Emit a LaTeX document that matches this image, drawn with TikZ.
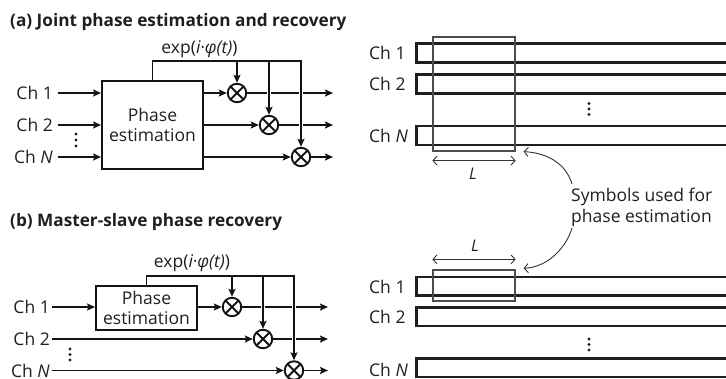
\documentclass[tikz,border=0pt]{standalone}
\usepackage{fontspec}
\setmainfont{Open Sans}
\usetikzlibrary{arrows.meta,calc}
\begin{document}
\begin{tikzpicture}[x=1pt,y=-1pt,
  txt/.style={font=\fontsize{17.5}{20.5}\selectfont, text=black!88, inner sep=0pt},
  ttl/.style={font=\fontsize{17.2}{20}\selectfont\bfseries, text=black!88, inner sep=0pt, anchor=base west},
  sig/.style={line width=1.9pt, draw=black!92},
  arr/.style={sig, -{Stealth[length=8pt,width=7pt,inset=1.5pt]}},
  halo/.style={line width=4.6pt, draw=white},
  est/.style={draw=black!92, line width=1.9pt, minimum width=101pt, align=center, inner sep=0pt,
    font=\fontsize{17.5}{20.5}\selectfont, text=black!88},
  mul/.style={circle, draw=black!92, line width=1.9pt, minimum size=18.5pt, inner sep=0pt},
  bar/.style={line width=2.4pt, draw=black!88},
  win/.style={line width=1.2pt, draw=black!70, inner sep=0pt},
  thin/.style={line width=0.9pt, draw=black!80},
  barb/.style={thin, -{Straight Barb[length=4pt,width=9pt]}},
  dotc/.style={fill=black!88},
]
\useasboundingbox (0,0) rectangle (726,378);

% ---------------- (a) ----------------
\node[ttl] (ta) at (10,26.7) {(a) Joint phase estimation and recovery};
\node[est, minimum height=88pt] (boxa) at (152.5,125) {Phase\\estimation};
\node[txt, anchor=east, inner xsep=5pt] (la1) at (58,93) {Ch 1};
\node[txt, anchor=east, inner xsep=5pt] (la2) at (58,125) {Ch 2};
\node[txt, anchor=east, inner xsep=5pt] (la3) at (58,157) {Ch \textit{N}};
\foreach \d in {134,140,146} \fill[dotc] (76,\d) circle (1.7pt);
\node[mul] (ma1) at (237,93) {};
\node[mul] (ma2) at (269,125) {};
\node[mul] (ma3) at (301,157) {};
\coordinate (outa) at (333,0);
\coordinate (fa) at ([yshift=19pt]boxa.north);
\node[txt, anchor=base] (expa) at (199.5,53.2) {exp(\textit{i·φ(t)})};

\draw[arr] (la1.east) -- (la1.east -| boxa.west);
\draw[arr] (la2.east) -- (la2.east -| boxa.west);
\draw[arr] (la3.east) -- (la3.east -| boxa.west);
\draw[arr] (boxa.east |- ma1) -- (ma1.west);
\draw[arr] (boxa.east |- ma2) -- (ma2.west);
\draw[arr] (boxa.east |- ma3) -- (ma3.west);
\draw[arr] (ma1.east) -- (ma1 -| outa);
\draw[arr] (ma2.east) -- (ma2 -| outa);
\draw[arr] (ma3.east) -- (ma3 -| outa);
\draw[halo] ($(ma2 |- fa)+(0,5)$) -- ($(ma2.north)+(0,-10)$);
\draw[halo] ($(ma3 |- fa)+(0,5)$) -- ($(ma3.north)+(0,-10)$);
\draw[arr] (boxa.north) -- (fa) -| (ma3.north);
\draw[arr] (ma1 |- fa) -- (ma1.north);
\draw[arr] (ma2 |- fa) -- (ma2.north);

% ---------------- (b) ----------------
\node[ttl] (tb) at (10,226) {(b) Master-slave phase recovery};
\node[est, minimum height=44pt] (boxb) at (146.5,308) {Phase\\estimation};
\node[txt, anchor=east, inner xsep=2pt] (lb1) at (52,307) {Ch 1};
\node[txt, anchor=east, inner xsep=2pt] (lb2) at (52,339) {Ch 2};
\node[txt, anchor=east, inner xsep=2pt] (lb3) at (52,370.5) {Ch \textit{N}};
\foreach \d in {349,354.5,360} \fill[dotc] (70,\d) circle (1.7pt);
\node[mul] (mb1) at (232,307) {};
\node[mul] (mb2) at (263,339) {};
\node[mul] (mb3) at (294,370.5) {};
\coordinate (outb) at (328,0);
\coordinate (fb) at ([yshift=9pt]boxb.north);
\node[txt, anchor=base] (expb) at (192,267.5) {exp(\textit{i·φ(t)})};

\draw[arr] (lb1.east) -- (lb1.east -| boxb.west);
\draw[arr] (boxb.east |- mb1) -- (mb1.west);
\draw[arr] (lb2.east) -- (mb2.west);
\draw[arr] (lb3.east |- mb3) -- (mb3.west);
\draw[arr] (mb1.east) -- (mb1 -| outb);
\draw[arr] (mb2.east) -- (mb2 -| outb);
\draw[arr] (mb3.east) -- (mb3 -| outb);
\draw[halo] ($(mb2 |- fb)+(0,5)$) -- ($(mb2.north)+(0,-10)$);
\draw[halo] ($(mb3 |- fb)+(0,5)$) -- ($(mb3.north)+(0,-10)$);
\draw[arr] (boxb.north) -- (fb) -| (mb3.north);
\draw[arr] (mb1 |- fb) -- (mb1.north);
\draw[arr] (mb2 |- fb) -- (mb2.north);

\foreach \m in {ma1,ma2,ma3,mb1,mb2,mb3}
  \draw[sig] ($(\m.center)+(-6.4,-6.4)$) -- ($(\m.center)+(6.4,6.4)$)
             ($(\m.center)+(6.4,-6.4)$) -- ($(\m.center)+(-6.4,6.4)$);

% ---------------- right, top ----------------
\draw[bar] (728,43.5) -| (416.5,62.5) -- (728,62.5);
\draw[bar] (728,74.5) -| (416.5,93.5) -- (728,93.5);
\draw[bar] (728,126) -| (416.5,145) -- (728,145);
\node[txt, anchor=west] (ra1) at (369,53) {Ch 1};
\node[txt, anchor=west] (ra2) at (369,84) {Ch 2};
\node[txt, anchor=west] (ra3) at (369,135.5) {Ch \textit{N}};
\foreach \d in {103.5,109,114.5} \fill[dotc] (589,\d) circle (1.7pt);
\node[win, minimum width=82pt, minimum height=114pt] (wina) at (474,94) {};
\draw[thin, {Straight Barb[length=4pt,width=9pt]}-{Straight Barb[length=4pt,width=9pt]}]
  ([yshift=-9pt]wina.south west) -- ([yshift=-9pt]wina.south east);
\node[txt, anchor=base, font=\fontsize{16}{19}\selectfont] (La) at (473,179) {\textit{L}};

% ---------------- right, bottom ----------------
\draw[bar] (728,277) -| (416.5,295.5) -- (728,295.5);
\draw[bar] (728,307.5) -| (416.5,326) -- (728,326);
\draw[bar] (728,358.5) -| (416.5,377) -- (728,377);
\node[txt, anchor=west] (rb1) at (369,286.5) {Ch 1};
\node[txt, anchor=west] (rb2) at (369,317) {Ch 2};
\node[txt, anchor=west] (rb3) at (369,369.5) {Ch \textit{N}};
\foreach \d in {339,344.5,350} \fill[dotc] (589,\d) circle (1.7pt);
\node[win, minimum width=82pt, minimum height=31pt] (winb) at (474,285.5) {};
\draw[thin, {Straight Barb[length=4pt,width=9pt]}-{Straight Barb[length=4pt,width=9pt]}]
  ([yshift=10pt]winb.north west) -- ([yshift=10pt]winb.north east);
\node[txt, anchor=base, font=\fontsize{16}{19}\selectfont] (Lb) at (475,251) {\textit{L}};

% ---------------- annotation ----------------
\node[txt, anchor=west, align=left] (sym) at (571,207.5) {Symbols used for\\phase estimation};
\coordinate (sa) at (572,184);
\coordinate (sb) at (572,228);
\draw[barb] (sa) .. controls (566,164) and (548,153) .. ($(wina.south east)+(8,0)$);
\draw[barb] (sb) .. controls (566,248) and (548,267) .. ($(winb.north east)+(8,-1)$);
\end{tikzpicture}
\end{document}
